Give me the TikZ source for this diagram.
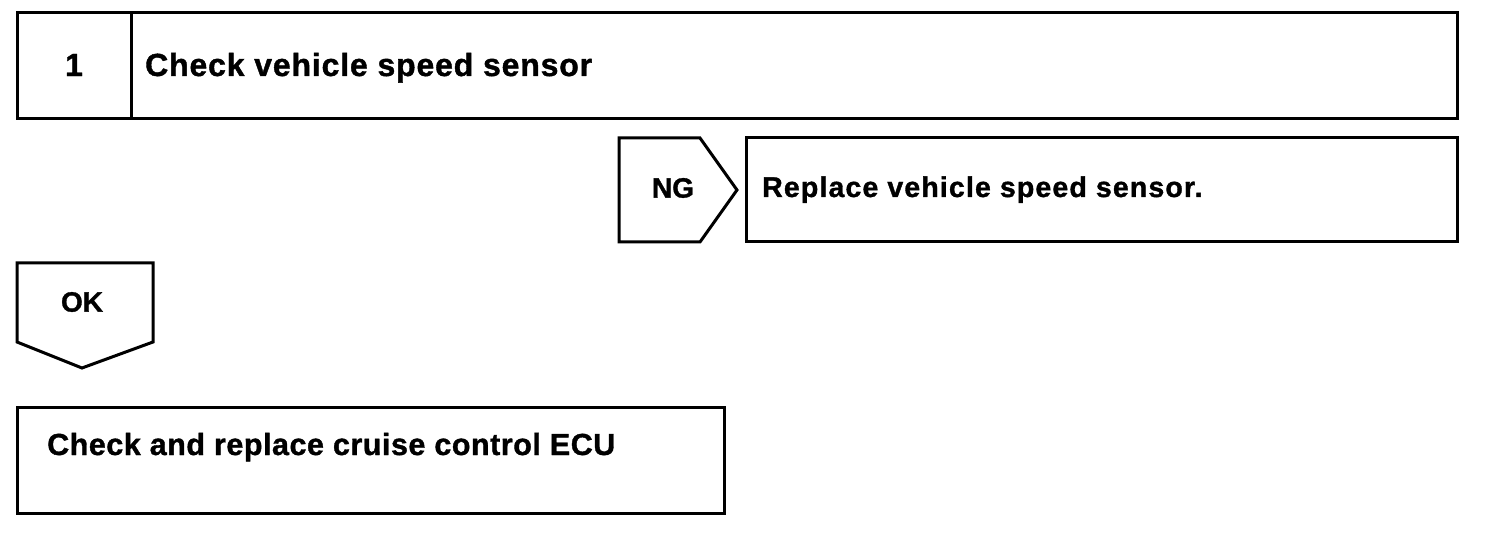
\documentclass[tikz,border=0pt]{standalone}
\usepackage{fontspec}
\setmainfont{Liberation Sans}
\begin{document}
\begin{tikzpicture}[x=1pt,y=-1pt,
  box/.style={draw=black,line width=3pt,line join=miter},
  lbl/.style={inner sep=0pt}]
\useasboundingbox (0,0) rectangle (1504,534);
% step 1 box
\draw[box] (17,13) rectangle (1457,119);
\draw[box] (131,13) -- (131,119);
\node[lbl,font=\bfseries\fontsize{32}{36}\selectfont\addfontfeature{FakeBold=1.2}] (num) at (74,65) {1};
\node[lbl,anchor=base west,font=\bfseries\fontsize{32}{36}\selectfont\addfontfeature{LetterSpace=2.6,FakeBold=1.2}] (t1) at (145,76) {Check vehicle speed sensor};
% NG
\draw[box] (619,138) -- (700,138) -- (737,190) -- (700,242) -- (619,242) -- cycle;
\node[lbl,font=\bfseries\fontsize{28}{32}\selectfont\addfontfeature{FakeBold=1.2}] (ng) at (673,188) {NG};
\draw[box] (746,138) rectangle (1457,242);
\node[lbl,anchor=base west,font=\bfseries\fontsize{28.5}{32}\selectfont\addfontfeature{LetterSpace=4,FakeBold=1.2}] (t2) at (762,197) {Replace vehicle speed sensor.};
% OK
\draw[box] (17,263) -- (153,263) -- (153,342) -- (82,368) -- (17,342) -- cycle;
\node[lbl,font=\bfseries\fontsize{28}{32}\selectfont\addfontfeature{FakeBold=1.2}] (ok) at (82,302) {OK};
% final
\draw[box] (17,407) rectangle (724,513);
\node[lbl,anchor=base west,font=\bfseries\fontsize{30.5}{34}\selectfont\addfontfeature{LetterSpace=1.7,FakeBold=1.2}] (t3) at (47,455) {Check and replace cruise control ECU};
\end{tikzpicture}
\end{document}
